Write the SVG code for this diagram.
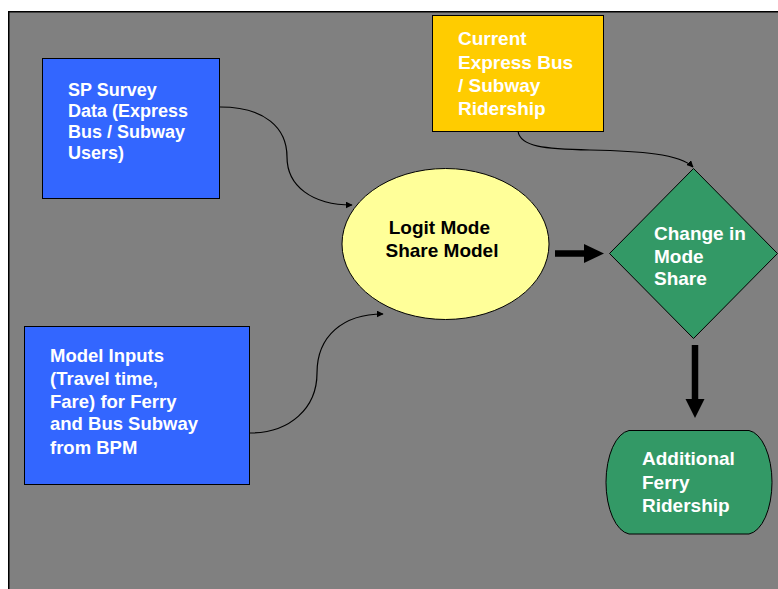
<svg xmlns="http://www.w3.org/2000/svg" width="778" height="589" viewBox="0 0 778 589">
  <style>
    .lbl { font-family: "Liberation Sans", Arial, sans-serif; font-weight: bold; fill: #ffffff; }
    .dark { fill: #000000; }
    .box { stroke: #000000; stroke-width: 1; }
    .thin { fill: none; stroke: #000000; stroke-width: 1.2; }
    .thick { fill: none; stroke: #000000; stroke-width: 6.5; }
  </style>
  <defs>
    <marker id="tip" viewBox="0 0 10 10" refX="9" refY="5" markerWidth="7" markerHeight="7" markerUnits="userSpaceOnUse" orient="auto">
      <path d="M0,0 L10,5 L0,10 Z" fill="#000000"/>
    </marker>
  </defs>

  <!-- page -->
  <rect x="0" y="0" width="778" height="589" fill="#ffffff"/>
  <rect x="8.75" y="11.75" width="775" height="585" fill="#808080" stroke="#000000" stroke-width="1.5"/>

  <!-- connectors -->
  <g id="connectors">
    <path class="thin" marker-end="url(#tip)" d="M220,107 C265,107 287,128 287,157 C287,186 312,205 352,205"/>
    <path class="thin" marker-end="url(#tip)" d="M250,433 C290,433 317,408 317,373 C317,336 343,314 383,314"/>
    <path class="thin" marker-end="url(#tip)" d="M518,131 C520,147 545,149 590,150 C640,151 680,154 693,167"/>
    <line class="thick" x1="555" y1="253.5" x2="586" y2="253.5"/>
    <path d="M584,244 L604,253.5 L584,263 Z" fill="#000000"/>
    <line class="thick" x1="695" y1="345" x2="695" y2="401"/>
    <path d="M685.5,399 L695,418 L704.5,399 Z" fill="#000000"/>
  </g>

  <!-- SP survey data -->
  <g id="sp-survey">
    <rect class="box" x="42.5" y="58.5" width="177" height="140" fill="#3366ff"/>
    <text class="lbl" font-size="18">
      <tspan x="68" y="96">SP Survey</tspan>
      <tspan x="68" y="117">Data (Express</tspan>
      <tspan x="68" y="138">Bus / Subway</tspan>
      <tspan x="68" y="159">Users)</tspan>
    </text>
  </g>

  <!-- current ridership -->
  <g id="current-ridership">
    <rect class="box" x="432.5" y="15.5" width="171" height="116" fill="#ffcc00"/>
    <text class="lbl" font-size="19">
      <tspan x="458" y="45">Current</tspan>
      <tspan x="458" y="68.5">Express Bus</tspan>
      <tspan x="458" y="92">/ Subway</tspan>
      <tspan x="458" y="115">Ridership</tspan>
    </text>
  </g>

  <!-- model inputs -->
  <g id="model-inputs">
    <rect class="box" x="24.5" y="326.5" width="225" height="158" fill="#3366ff"/>
    <text class="lbl" font-size="18.5">
      <tspan x="50" y="362">Model Inputs</tspan>
      <tspan x="50" y="385">(Travel time,</tspan>
      <tspan x="50" y="407.5">Fare) for Ferry</tspan>
      <tspan x="50" y="430">and Bus Subway</tspan>
      <tspan x="50" y="454">from BPM</tspan>
    </text>
  </g>

  <!-- logit model -->
  <g id="logit-model">
    <ellipse class="box" cx="445.5" cy="244" rx="103.5" ry="75.5" fill="#ffff99"/>
    <text class="lbl dark" font-size="19" text-anchor="middle">
      <tspan x="442" y="233.5">Logit Mode</tspan>
      <tspan x="442" y="257">Share Model</tspan>
    </text>
  </g>

  <!-- change in mode share -->
  <g id="mode-share">
    <path class="box" d="M693.5,168.5 L777.5,253.5 L693.5,338.5 L609.5,253.5 Z" fill="#339966"/>
    <text class="lbl" font-size="19">
      <tspan x="654" y="240">Change in</tspan>
      <tspan x="654" y="262.5">Mode</tspan>
      <tspan x="654" y="285">Share</tspan>
    </text>
  </g>

  <!-- additional ferry ridership -->
  <g id="ferry-ridership">
    <path class="box" d="M629,430.5 L749,430.5 A25.5,52 0 0 1 749,534 L629,534 A25.5,52 0 0 1 629,430.5 Z" fill="#339966"/>
    <text class="lbl" font-size="19">
      <tspan x="642" y="465">Additional</tspan>
      <tspan x="642" y="488.5">Ferry</tspan>
      <tspan x="642" y="511.5">Ridership</tspan>
    </text>
  </g>
</svg>
